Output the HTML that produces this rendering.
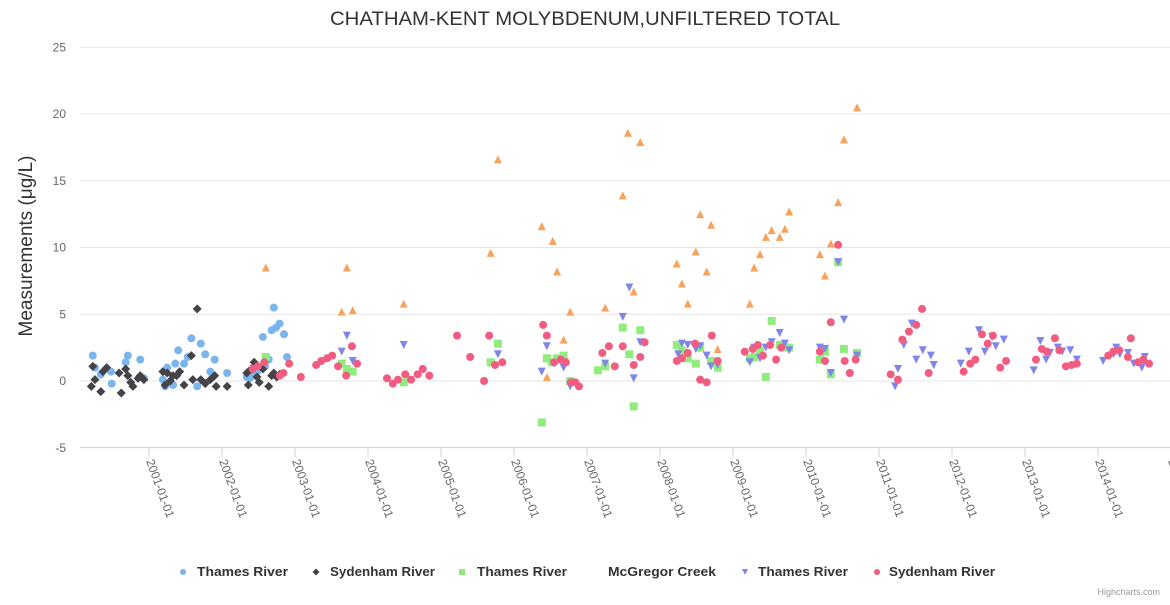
<!DOCTYPE html>
<html><head><meta charset="utf-8"><style>
body{margin:0;background:#fff;}
svg{font-family:"Liberation Sans",Arial,sans-serif;}
</style></head><body>
<svg id="chart" width="1170" height="600">
<text x="330" y="25" textLength="510" lengthAdjust="spacingAndGlyphs" font-size="19" fill="#333">CHATHAM-KENT MOLYBDENUM,UNFILTERED TOTAL</text>
<text transform="translate(32,246) rotate(-90)" text-anchor="middle" font-size="19" fill="#333">Measurements (μg/L)</text>
<g id="grid"></g><g id="xaxis"></g><g id="series"></g><g id="legend"></g>
<text x="1160" y="595" text-anchor="end" font-size="9" fill="#999">Highcharts.com</text>
</svg>
<script>
const yTicks=[-5,0,5,10,15,20,25];
const xTickYears=[2001,2002,2003,2004,2005,2006,2007,2008,2009,2010,2011,2012,2013,2014,2015];
const seriesNames=["Thames River","Sydenham River","Thames River","McGregor Creek","Thames River","Sydenham River"];
const thames1X=[2000.23,2000.26,2000.34,2000.48,2000.49,2000.68,2000.71,2000.88,2000.93,2001.19,2001.22,2001.25,2001.33,2001.36,2001.40,2001.48,2001.53,2001.58,2001.66,2001.71,2001.77,2001.84,2001.90,2002.07,2002.34,2002.38,2002.42,2002.48,2002.56,2002.59,2002.64,2002.68,2002.74,2002.71,2002.79,2002.85,2002.89];
const thames1Y=[1.9,1.0,0.5,0.7,-0.2,1.4,1.9,1.6,0.2,0.1,-0.4,1.0,-0.3,1.3,2.3,1.3,1.8,3.2,-0.4,2.8,2.0,0.7,1.6,0.6,0.3,0.2,0.4,0.7,3.3,1.1,1.6,3.8,4.0,5.5,4.3,3.5,1.8];
const syd1X=[2000.21,2000.23,2000.26,2000.34,2000.37,2000.42,2000.59,2000.62,2000.68,2000.71,2000.75,2000.78,2000.85,2000.88,2000.93,2001.19,2001.22,2001.25,2001.29,2001.33,2001.38,2001.42,2001.48,2001.58,2001.60,2001.66,2001.71,2001.77,2001.84,2001.90,2001.92,2002.07,2002.34,2002.36,2002.40,2002.44,2002.48,2002.51,2002.56,2002.64,2002.68,2002.71,2002.75,2002.79];
const syd1Y=[-0.4,1.1,0.1,-0.8,0.7,1.0,0.6,-0.9,0.9,0.4,-0.1,-0.4,0.2,0.4,0.1,0.7,-0.3,0.6,0,0.4,0.4,0.7,-0.3,1.9,0.1,5.4,0.1,-0.2,0.1,0.4,-0.4,-0.4,0.6,-0.3,0.9,1.4,0.3,-0.1,0.9,-0.4,0.4,0.6,0.3,0.5];
const thames2X=[2002.60,2003.64,2003.71,2003.79,2004.49,2005.68,2005.78,2006.38,2006.45,2006.52,2006.59,2006.68,2006.77,2007.15,2007.25,2007.49,2007.58,2007.64,2007.73,2008.23,2008.30,2008.38,2008.49,2008.55,2008.70,2008.79,2009.23,2009.29,2009.37,2009.45,2009.53,2009.64,2009.71,2009.77,2010.19,2010.26,2010.34,2010.44,2010.52,2010.70];
const thames2Y=[1.8,1.3,0.9,0.7,-0.1,1.4,2.8,-3.1,1.7,1.4,1.7,1.9,0,0.8,1.1,4.0,2.0,-1.9,3.8,2.7,2.3,1.7,1.3,2.5,1.5,1.0,1.7,1.8,2.3,0.3,4.5,2.7,2.5,2.5,1.6,2.2,0.5,8.9,2.4,2.1];
const mcgX=[2002.60,2003.64,2003.71,2003.79,2004.49,2005.68,2005.78,2006.38,2006.45,2006.53,2006.59,2006.68,2006.77,2007.25,2007.49,2007.56,2007.64,2007.73,2008.23,2008.30,2008.38,2008.49,2008.55,2008.64,2008.70,2008.79,2009.23,2009.29,2009.37,2009.45,2009.53,2009.64,2009.71,2009.77,2010.19,2010.26,2010.34,2010.44,2010.52,2010.70];
const mcgY=[8.5,5.2,8.5,5.3,5.8,9.6,16.6,11.6,0.3,10.5,8.2,3.1,5.2,5.5,13.9,18.6,6.7,17.9,8.8,7.3,5.8,9.7,12.5,8.2,11.7,2.4,5.8,8.5,9.5,10.8,11.3,10.8,11.4,12.7,9.5,7.9,10.3,13.4,18.1,20.5];
const thames3X=[2003.64,2003.71,2003.79,2004.49,2005.78,2006.38,2006.45,2006.55,2006.68,2006.77,2007.25,2007.49,2007.58,2007.64,2007.73,2008.25,2008.30,2008.38,2008.49,2008.55,2008.64,2008.70,2008.79,2009.23,2009.29,2009.37,2009.45,2009.53,2009.64,2009.71,2009.77,2010.19,2010.26,2010.34,2010.44,2010.52,2010.70,2011.22,2011.26,2011.34,2011.45,2011.51,2011.60,2011.71,2011.75,2012.12,2012.23,2012.37,2012.45,2012.55,2012.60,2012.71,2013.12,2013.21,2013.29,2013.34,2013.45,2013.51,2013.62,2013.71,2014.07,2014.21,2014.25,2014.30,2014.41,2014.49,2014.60,2014.64];
const thames3Y=[2.2,3.4,1.5,2.7,2.0,0.7,2.6,1.3,1.0,-0.4,1.3,4.8,7.0,0.2,2.9,2.0,2.8,2.7,2.4,2.6,1.9,1.1,1.2,1.4,2.5,1.7,2.5,2.9,3.6,2.8,2.3,2.5,2.4,0.6,8.9,4.6,1.9,-0.4,0.9,2.7,4.3,1.6,2.3,1.9,1.2,1.3,2.2,3.8,2.2,3.3,2.6,3.1,0.8,3.0,1.6,2.1,2.5,2.2,2.3,1.6,1.5,2.0,2.5,2.0,2.1,1.3,1.0,1.8];
const syd2X=[2002.42,2002.49,2002.58,2002.79,2002.84,2002.92,2003.08,2003.29,2003.36,2003.44,2003.51,2003.59,2003.70,2003.78,2003.85,2004.26,2004.34,2004.41,2004.51,2004.59,2004.68,2004.75,2004.84,2005.22,2005.40,2005.59,2005.66,2005.74,2005.84,2006.40,2006.45,2006.55,2006.64,2006.71,2006.78,2006.84,2006.89,2007.21,2007.30,2007.38,2007.49,2007.64,2007.73,2007.79,2008.23,2008.30,2008.38,2008.48,2008.55,2008.64,2008.71,2008.79,2009.16,2009.27,2009.34,2009.41,2009.51,2009.59,2009.66,2010.19,2010.26,2010.34,2010.44,2010.53,2010.60,2010.68,2011.16,2011.26,2011.32,2011.41,2011.51,2011.59,2011.68,2012.16,2012.25,2012.32,2012.41,2012.49,2012.56,2012.66,2012.74,2013.15,2013.23,2013.30,2013.41,2013.47,2013.56,2013.64,2013.71,2014.14,2014.21,2014.29,2014.41,2014.45,2014.55,2014.62,2014.70];
const syd2Y=[0.9,1.1,1.4,0.4,0.6,1.3,0.3,1.2,1.5,1.7,1.9,1.1,0.4,2.6,1.3,0.2,-0.2,0.1,0.5,0.1,0.5,0.9,0.4,3.4,1.8,0,3.4,1.2,1.4,4.2,3.4,1.4,1.6,1.4,-0.1,-0.1,-0.4,2.1,2.6,1.1,2.6,1.2,1.8,2.9,1.5,1.7,2.1,2.8,0.1,-0.1,3.4,1.5,2.2,2.4,2.7,1.9,2.7,1.6,2.5,2.2,1.5,4.4,10.2,1.5,0.6,1.6,0.5,0.1,3.1,3.7,4.2,5.4,0.6,0.7,1.3,1.6,3.5,2.8,3.4,1.0,1.5,1.6,2.4,2.2,3.2,2.3,1.1,1.2,1.3,1.9,2.2,2.3,1.8,3.2,1.4,1.6,1.3];

const NS="http://www.w3.org/2000/svg";
const xs=yr=>76+(yr-2000)*73;
const ys=v=>381-v*13.35;
function mk(tag,attrs,parent){const e=document.createElementNS(NS,tag);for(const k in attrs)e.setAttribute(k,attrs[k]);parent.appendChild(e);return e;}
const grid=document.getElementById('grid');
yTicks.forEach(t=>{
  const l=mk('line',{x1:80,x2:1170,y1:ys(t),y2:ys(t),stroke:'#e6e6e6','stroke-width':1},grid);
  
  
  const tx=mk('text',{x:66,y:ys(t)+4,'text-anchor':'end','font-size':12,fill:'#666'},grid);
  tx.textContent=t;
  
  
});
const xa=document.getElementById('xaxis');
const ax=mk('line',{x1:80,x2:1170,y1:447.5,y2:447.5,stroke:'#ccd6eb'},xa);


xTickYears.forEach(yr=>{
  const x=xs(yr);
  const tk=mk('line',{x1:x,x2:x,y1:447,y2:457,stroke:'#ccd6eb'},xa);
  
  
  const tx=mk('text',{x:0,y:0,'font-size':12,fill:'#666',transform:`translate(${x-3},461) rotate(70)`},xa);
  tx.textContent=yr+'-01-01';
  
  
});
const colors=['#7cb5ec','#434348','#90ed7d','#f7a35c','#8085e9','#f15c80'];
const symbols=['circle','diamond','square','triangle','triangle-down','circle'];
function marker(sym,x,y,c,parent,s){
  s=s||4;
  let e;
  if(sym==='circle') e=mk('circle',{cx:x,cy:y,r:s,fill:c},parent);
  else if(sym==='square') e=mk('rect',{x:x-s,y:y-s,width:2*s,height:2*s,fill:c},parent);
  else if(sym==='diamond') e=mk('path',{d:`M${x} ${y-s-0.5}L${x+s+0.5} ${y}L${x} ${y+s+0.5}L${x-s-0.5} ${y}Z`,fill:c},parent);
  else if(sym==='triangle') e=mk('path',{d:`M${x} ${y-s}L${x+s} ${y+s}L${x-s} ${y+s}Z`,fill:c},parent);
  else e=mk('path',{d:`M${x-s} ${y-s}L${x+s} ${y-s}L${x} ${y+s}Z`,fill:c},parent);
  return e;
}
const allX=[thames1X,syd1X,thames2X,mcgX,thames3X,syd2X];
const allY=[thames1Y,syd1Y,thames2Y,mcgY,thames3Y,syd2Y];
const sg=document.getElementById('series');
allX.forEach((xsArr,i)=>{
  const g=mk('g',{},sg);
  
  
  xsArr.forEach((yr,j)=>{
    const m=marker(symbols[i],xs(yr),ys(allY[i][j]),colors[i],g);
    
    
  });
});
const lg=document.getElementById('legend');
const legX=[183,316,462,null,745,877];
const legTX=[197,330,477,608,758,889];
const legW=[91,105,90,108,90,106];
seriesNames.forEach((n,i)=>{
  const g=mk('g',{},lg);
  
  
  if(legX[i]!==null) marker(symbols[i],legX[i],572,colors[i],g,3);
  const t=mk('text',{x:legTX[i],y:576,'font-size':12.5,'font-weight':'bold',fill:'#333',textLength:legW[i],lengthAdjust:'spacingAndGlyphs'},g);
  t.textContent=n;
});
</script>
</body></html>
